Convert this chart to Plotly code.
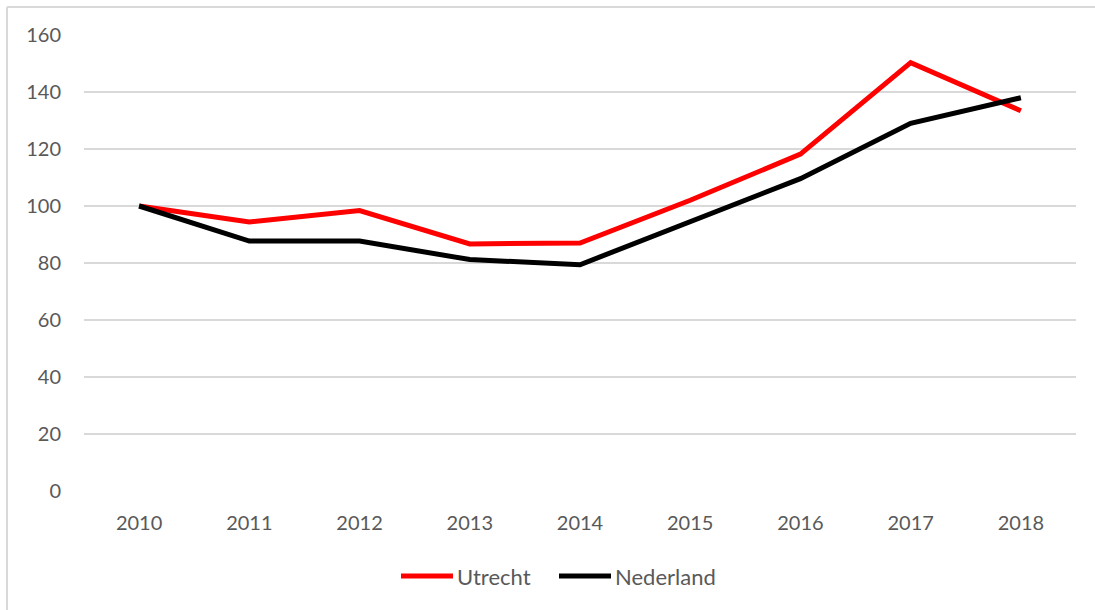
import plotly.graph_objects as go

# Index values (2010 = 100)
years = ["2010", "2011", "2012", "2013", "2014", "2015", "2016", "2017", "2018"]
utrecht = [100, 94.4, 98.4, 86.7, 87.0, 102.0, 118.2, 150.3, 133.4]
nederland = [100, 87.7, 87.7, 81.2, 79.4, 94.6, 109.6, 129.0, 138.0]
y_ticks = [0, 20, 40, 60, 80, 100, 120, 140, 160]

series = [("Utrecht", utrecht, "#ff0000"), ("Nederland", nederland, "#000000")]

W, H = 1095, 610
ML, MR, MT, MB = 84, 19, 35, 119
PW, PH = W - ML - MR, H - MT - MB

FONT = "Lato"
GREY = "#595959"
TICK_SIZE = 20
LEGEND_SIZE = 22


def px_x(p):
    return (p - ML) / PW


def px_y(p):
    return (H - MB - p) / PH


fig = go.Figure()
for name, vals, color in series:
    fig.add_trace(go.Scatter(x=years, y=vals, name=name, mode="lines",
                             line=dict(color=color, width=5), showlegend=False))

# thin frame around the chart (top and left edges visible)
frame = dict(type="line", xref="paper", yref="paper",
             line=dict(color="#d9d9d9", width=2))
fig.add_shape(**frame, x0=px_x(7), x1=px_x(W + 5), y0=px_y(7), y1=px_y(7))
fig.add_shape(**frame, x0=px_x(7), x1=px_x(7), y0=px_y(7), y1=px_y(H + 5))

# legend drawn below the plot: long line sample followed by the series name
legend_y = 576
legend_items = [(401, 453, 455), (559, 611, 613)]
for (name, _, color), (lx0, lx1, tx) in zip(series, legend_items):
    fig.add_shape(type="line", xref="paper", yref="paper",
                  x0=px_x(lx0), x1=px_x(lx1), y0=px_y(legend_y), y1=px_y(legend_y),
                  line=dict(color=color, width=5))
    fig.add_annotation(xref="paper", yref="paper", x=px_x(tx), y=px_y(legend_y),
                       xanchor="left", yanchor="middle", showarrow=False,
                       text=name, font=dict(family=FONT, size=LEGEND_SIZE, color=GREY))

fig.update_layout(
    width=W, height=H,
    margin=dict(l=ML, r=MR, t=MT, b=MB, pad=0),
    paper_bgcolor="white", plot_bgcolor="white",
    font=dict(family=FONT, size=TICK_SIZE, color=GREY),
    showlegend=False,
    xaxis=dict(type="category", range=[-0.5, 8.5], showgrid=False, zeroline=False,
               showline=False, ticks="", tickfont=dict(size=TICK_SIZE, color=GREY),
               ticklabelstandoff=18),
    yaxis=dict(range=[0, 160], tickvals=y_ticks, showgrid=True, gridcolor="#d9d9d9",
               gridwidth=1.5, zeroline=False, showline=False, ticks="",
               tickfont=dict(size=TICK_SIZE, color=GREY), ticklabelstandoff=22),
)

fig.write_html("out.html")
